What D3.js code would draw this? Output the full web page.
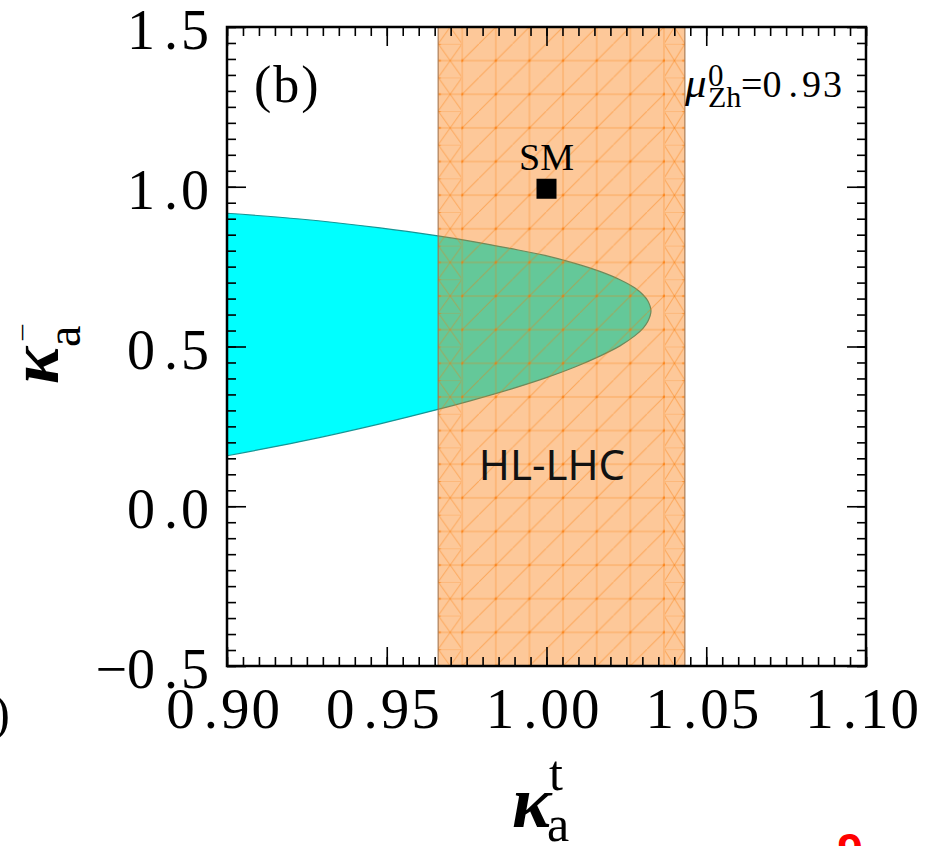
<!DOCTYPE html>
<html><head><meta charset="utf-8">
<script src="https://cdn.jsdelivr.net/npm/d3@7"></script>
<style>body{margin:0;background:#fff} svg{display:block}</style>
</head><body><svg id="chart" width="927" height="846"></svg>
<script>
// ---------------- data ----------------
const xDomain = [0.90, 1.10];
const yDomain = [-0.5, 1.5];
const xTickValues = [0.90, 0.95, 1.00, 1.05, 1.10];
const xTickLabels = ["0.90", "0.95", "1.00", "1.05", "1.10"];
const yTickValues = [-0.5, 0.0, 0.5, 1.0, 1.5];
const yTickLabels = ["\u22120.5", "0.0", "0.5", "1.0", "1.5"];
const bandRange = [0.9661, 1.0433];            // HL-LHC allowed kappa_a^t
const regionUpper = [[0.9000,0.917],[0.9228,0.899],[0.9479,0.871],[0.9660,0.846],[0.9761,0.830],
                     [0.9886,0.807],[0.9995,0.785],[1.0089,0.760],[1.0167,0.735],[1.0230,0.709],
                     [1.0277,0.683],[1.0302,0.662],[1.0317,0.643],[1.0327,0.611]];
const regionLower = [[1.0317,0.578],[1.0302,0.557],[1.0277,0.534],[1.0230,0.502],[1.0167,0.470],
                     [1.0089,0.436],[0.9995,0.401],[0.9886,0.366],[0.9761,0.330],[0.9660,0.303],
                     [0.9479,0.258],[0.9228,0.202],[0.9000,0.158]];
const smPoint = [1.0, 1.0];
const panelLabel = "(b)";
const bandLabel = "HL-LHC";
const smLabel = "SM";
const muValue = "0.93";

// ---------------- setup ----------------
const svg = d3.select("#chart");
const X0 = 227, X1 = 866, Y0 = 27, Y1 = 666;
const x = d3.scaleLinear().domain(xDomain).range([X0, X1]);
const y = d3.scaleLinear().domain(yDomain).range([Y1, Y0]);
const serif = "'Liberation Serif','Times New Roman',serif";

const defs = svg.append("defs");
defs.append("clipPath").attr("id", "plotclip").append("rect")
  .attr("x", X0).attr("y", Y0).attr("width", X1 - X0).attr("height", Y1 - Y0);

// hatch patterns
const cell = (Y1 - Y0) / 19;
const bx0 = x(bandRange[0]), bx1 = x(bandRange[1]);
const gridStart = bx0 + 24;
const nCols = Math.floor((bx1 - gridStart) / cell);
const gridEnd = gridStart + nCols * cell;
const hatchCol = "rgb(250,118,0)";

const pMain = defs.append("pattern").attr("id", "hatchMain").attr("patternUnits", "userSpaceOnUse")
  .attr("x", gridStart - cell / 2).attr("y", Y0 + cell / 2).attr("width", cell).attr("height", cell);
pMain.append("line").attr("x1", cell/2).attr("y1", 0).attr("x2", cell/2).attr("y2", cell);
pMain.append("line").attr("x1", 0).attr("y1", cell/2).attr("x2", cell).attr("y2", cell/2);
pMain.append("line").attr("x1", 0).attr("y1", cell).attr("x2", cell).attr("y2", 0);
pMain.selectAll("line").attr("stroke", hatchCol).attr("stroke-opacity", 0.4).attr("stroke-width", 1);
pMain.append("circle").attr("cx", cell/2).attr("cy", cell/2).attr("r", 1.4).attr("fill", hatchCol).attr("fill-opacity", 0.55);

function edgePattern(id, x0, w) {
  const p = defs.append("pattern").attr("id", id).attr("patternUnits", "userSpaceOnUse")
    .attr("x", x0).attr("y", Y0 + cell / 2).attr("width", w).attr("height", cell);
  p.append("line").attr("x1", 0).attr("y1", 0).attr("x2", w).attr("y2", cell);
  p.append("line").attr("x1", 0).attr("y1", cell).attr("x2", w).attr("y2", 0);
  p.append("line").attr("x1", 0).attr("y1", cell/2).attr("x2", w).attr("y2", cell/2);
  p.append("line").attr("x1", 0).attr("y1", 0).attr("x2", w).attr("y2", 0);
  p.selectAll("line").attr("stroke", hatchCol).attr("stroke-opacity", 0.4).attr("stroke-width", 1);
  p.append("circle").attr("cx", id === "hatchL" ? 1.5 : w - 1.5).attr("cy", cell/2).attr("r", 1.3).attr("fill", hatchCol).attr("fill-opacity", 0.55);
  p.append("circle").attr("cx", id === "hatchL" ? 1.5 : w - 1.5).attr("cy", 0).attr("r", 1.3).attr("fill", hatchCol).attr("fill-opacity", 0.55);
}
edgePattern("hatchL", bx0, gridStart - bx0);
edgePattern("hatchR", gridEnd, bx1 - gridEnd);

const plot = svg.append("g").attr("clip-path", "url(#plotclip)");

// cyan allowed region
const line = d3.line().x(d => x(d[0])).y(d => y(d[1])).curve(d3.curveCatmullRom.alpha(0.5));
plot.append("path")
  .attr("d", line(regionUpper.concat(regionLower)) + "Z")
  .attr("fill", "#00ffff").attr("stroke", "rgb(20,150,150)").attr("stroke-width", 1.2);

// HL-LHC band
plot.append("rect").attr("x", bx0).attr("y", Y0).attr("width", bx1 - bx0).attr("height", Y1 - Y0)
  .attr("fill", "rgb(250,118,0)").attr("fill-opacity", 0.4);
plot.append("rect").attr("x", gridStart - 1).attr("y", Y0).attr("width", gridEnd - gridStart + 2).attr("height", Y1 - Y0)
  .attr("fill", "url(#hatchMain)");
plot.append("rect").attr("x", bx0).attr("y", Y0).attr("width", gridStart - bx0 - 1).attr("height", Y1 - Y0)
  .attr("fill", "url(#hatchL)");
plot.append("rect").attr("x", gridEnd + 1).attr("y", Y0).attr("width", bx1 - gridEnd - 1).attr("height", Y1 - Y0)
  .attr("fill", "url(#hatchR)");
[bx0, bx1].forEach(bx => plot.append("line").attr("x1", bx).attr("x2", bx).attr("y1", Y0).attr("y2", Y1)
  .attr("stroke", "rgb(160,110,70)").attr("stroke-opacity", 0.7).attr("stroke-width", 1.5));

// SM point
plot.append("rect").attr("x", x(smPoint[0]) - 10).attr("y", y(smPoint[1]) - 8)
  .attr("width", 20).attr("height", 20).attr("fill", "#000");
svg.append("text").attr("x", x(smPoint[0])).attr("y", y(smPoint[1]) - 17)
  .attr("text-anchor", "middle").attr("font-family", serif).attr("font-size", 38).text(smLabel);

// band label
svg.append("text").attr("x", 552).attr("y", 480).attr("text-anchor", "middle")
  .attr("font-family", "'Noto Sans','Open Sans',sans-serif").attr("font-size", 42).attr("fill", "#111").text(bandLabel);

// panel label
svg.append("text").attr("x", 254).attr("y", 102).attr("font-family", serif).attr("font-size", 52)
  .attr("letter-spacing", 2).text(panelLabel);

// mu label
const mu = svg.append("text").attr("x", 685).attr("y", 97).attr("font-family", serif);
mu.append("tspan").attr("font-size", 43).attr("font-style", "italic").text("\u03bc");
mu.append("tspan").attr("x", 708).attr("y", 86).attr("font-size", 31).text("0");
mu.append("tspan").attr("x", 708).attr("y", 107).attr("font-size", 30).text("Zh");
mu.append("tspan").attr("x", 741).attr("y", 97).attr("font-size", 38).text("=" + muValue.split(".")[0]);
mu.append("tspan").attr("dx", 7).attr("font-size", 38).text(".");
mu.append("tspan").attr("dx", 4).attr("font-size", 38).attr("letter-spacing", 2).text(muValue.split(".")[1]);

// ---------------- axes ----------------
const minorX = d3.range(0, 41).map(i => +(xDomain[0] + i * 0.005).toFixed(3));
const minorY = d3.range(0, 41).map(i => +(yDomain[0] + i * 0.05).toFixed(2));
function drawAxis(axisFn, scale, tr, vals, size) {
  const g = svg.append("g").attr("transform", tr)
    .call(axisFn(scale).tickValues(vals).tickSize(-size).tickFormat(""));
  g.select(".domain").remove();
  g.selectAll(".tick line").attr("stroke", "#000").attr("stroke-width", 1.6);
}
drawAxis(d3.axisBottom, x, `translate(0,${Y1})`, minorX, 9);
drawAxis(d3.axisBottom, x, `translate(0,${Y1})`, xTickValues, 19);
drawAxis(d3.axisTop, x, `translate(0,${Y0})`, minorX, 9);
drawAxis(d3.axisTop, x, `translate(0,${Y0})`, xTickValues, 19);
drawAxis(d3.axisLeft, y, `translate(${X0},0)`, minorY, 9);
drawAxis(d3.axisLeft, y, `translate(${X0},0)`, yTickValues, 19);
drawAxis(d3.axisRight, y, `translate(${X1},0)`, minorY, 9);
drawAxis(d3.axisRight, y, `translate(${X1},0)`, yTickValues, 19);

svg.append("rect").attr("x", X0).attr("y", Y0).attr("width", X1 - X0).attr("height", Y1 - Y0)
  .attr("fill", "none").attr("stroke", "#000").attr("stroke-width", 2.5);

function spaced(t, str) {
  const parts = str.split(".");
  t.append("tspan").text(parts[0]);
  t.append("tspan").attr("dx", 9).text(".");
  t.append("tspan").attr("dx", 3).attr("letter-spacing", 2).text(parts[1]);
}
xTickValues.forEach((v, i) => {
  const t = svg.append("text").attr("x", x(v) - 3).attr("y", Y1 + 62).attr("text-anchor", "middle")
    .attr("font-family", serif).attr("font-size", 57);
  spaced(t, xTickLabels[i]);
});
yTickValues.forEach((v, i) => {
  const t = svg.append("text").attr("x", X0 - 16).attr("y", y(v) + 22).attr("text-anchor", "end")
    .attr("font-family", serif).attr("font-size", 56);
  spaced(t, yTickLabels[i]);
});

// axis titles
const xt = svg.append("text").attr("x", 512).attr("y", 827).attr("font-family", serif);
xt.append("tspan").attr("font-size", 74).attr("font-style", "italic").attr("font-weight", "bold").text("\u03ba");
xt.append("tspan").attr("x", 549).attr("y", 790).attr("font-size", 50).text("t");
xt.append("tspan").attr("x", 547).attr("y", 841).attr("font-size", 50).text("a");

const yt = svg.append("g").attr("transform", "translate(58,384) rotate(-90)");
const ytt = yt.append("text").attr("x", 0).attr("y", 0).attr("font-family", serif);
ytt.append("tspan").attr("font-size", 70).attr("font-style", "italic").attr("font-weight", "bold").text("\u03ba");
ytt.append("tspan").attr("x", 37).attr("y", 22).attr("font-size", 48).text("a");
yt.append("text").attr("x", 44).attr("y", -14).attr("font-family", serif).attr("font-size", 30).text("\u00af");

// stray fragments of neighbouring panels
svg.append("text").attr("x", 10).attr("y", 730).attr("text-anchor", "end")
  .attr("font-family", serif).attr("font-size", 50).text(")");
svg.append("text").attr("x", 850).attr("y", 866).attr("text-anchor", "middle")
  .attr("font-family", "'Liberation Sans',Arial,sans-serif").attr("font-weight", "bold")
  .attr("font-size", 46).attr("fill", "#ff0000").text("9");
</script></body></html>
